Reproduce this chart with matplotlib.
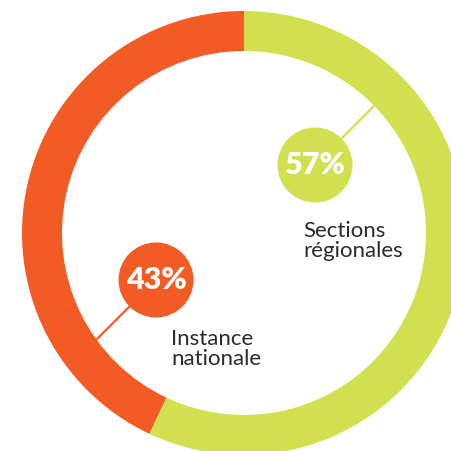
import numpy as np
import matplotlib.pyplot as plt

plt.rcParams['font.family'] = ['Lato', 'DejaVu Sans']

# data
labels = ['Instance\nnationale', 'Sections\nrégionales']
values = [43, 57]
colors = ['#F25C24', '#D2DF4F']

W, H = 451, 452
fig = plt.figure(figsize=(W / 100, H / 100), dpi=100)
ax = fig.add_axes([0, 0, 1, 1])

cx, cy = 244, H - 234
R, ring = 222, 40

ax.pie(values, colors=colors, startangle=90, counterclock=True,
       radius=R, center=(cx, cy),
       wedgeprops=dict(width=ring, linewidth=0), frame=True)

# label bubbles: centre (pixel coords from top) and direction of the leader line
bubbles = [((156, 281), (-1, -1)), ((315, 166), (1, 1))]
text_pos = [(171, 365), (303, 257)]  # baseline of the last line
r_in = R - ring

for i, ((bx, by), (dx, dy)) in enumerate(bubbles):
    by = H - by
    # walk along a 45 degree line until we hit the inner edge of the ring
    d = np.array([dx, dy]) / np.sqrt(2)
    p = np.array([bx - cx, by - cy], dtype=float)
    b = 2 * p.dot(d)
    c = p.dot(p) - r_in ** 2
    t = (-b + np.sqrt(b * b - 4 * c)) / 2
    ex, ey = bx + d[0] * t, by + d[1] * t
    ax.plot([bx, ex], [by, ey], color=colors[i], lw=1.6, zorder=3,
            solid_capstyle='butt')
    ax.add_patch(plt.Circle((bx, by), 37.5, color=colors[i], zorder=4, lw=0))
    ax.text(bx, by + 1, f'{values[i]}%', color='white', fontsize=22,
            fontweight='heavy', ha='center', va='center', zorder=5)
    tx, ty = text_pos[i]
    ax.text(tx, H - ty, labels[i], color='#2b2b2b', fontsize=16,
            ha='left', va='baseline', linespacing=1.0, zorder=5)

ax.set_xlim(0, W)
ax.set_ylim(0, H)
ax.set_aspect('equal')
ax.axis('off')

fig.savefig('out.png', dpi=100, facecolor='white')
